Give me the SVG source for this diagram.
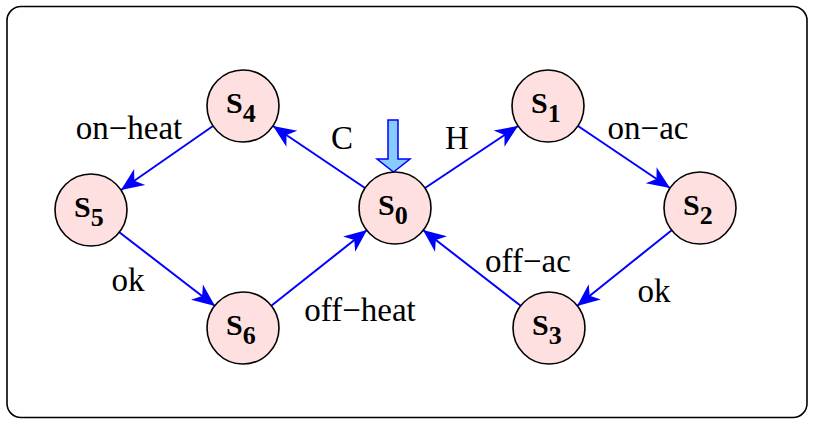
<svg xmlns="http://www.w3.org/2000/svg" width="814" height="425" viewBox="0 0 814 425">
<style>
.node circle{fill:#ffe0e0;stroke:#000;stroke-width:1.6}
.nl{font-family:"Liberation Serif","Times New Roman",serif;font-weight:bold;fill:#000;font-size:30px}
.sub{font-size:26px}
.lbl{font-family:"Liberation Serif","Times New Roman",serif;font-size:33px;fill:#000;text-anchor:middle}
.edge{stroke:#0000ff;stroke-width:2;fill:none;marker-end:url(#ah)}
</style>
<defs>
<marker id="ah" markerUnits="userSpaceOnUse" markerWidth="26" markerHeight="22" viewBox="-22 -10 24 20" refX="0" refY="0" orient="auto">
<path d="M0,0 L-21,-9 L-15,0 L-21,9 Z" fill="#0000ff"/>
</marker>
</defs>
<rect x="7" y="6.5" width="800" height="411" rx="14" fill="#fff" stroke="#000" stroke-width="1.6"/>
<g id="connectors">
<line class="edge" x1="425" y1="188" x2="518" y2="126"/>
<line class="edge" x1="365" y1="188" x2="273" y2="126"/>
<line class="edge" x1="578" y1="126" x2="670" y2="188"/>
<line class="edge" x1="672" y1="230" x2="577" y2="306"/>
<line class="edge" x1="521" y1="306" x2="423" y2="230"/>
<line class="edge" x1="213" y1="126" x2="121" y2="190"/>
<line class="edge" x1="119" y1="232" x2="215" y2="306"/>
<line class="edge" x1="271" y1="306" x2="367" y2="230"/>
<polygon points="388,120 398,120 398,159 410,159 393.5,172 377,159 388,159" fill="#88ccff" stroke="#0000ff" stroke-width="1.5"/>
</g>
<g id="labels">
<text class="lbl" x="342" y="149">C</text>
<text class="lbl" x="457" y="149">H</text>
<text class="lbl" x="129" y="139">on−heat</text>
<text class="lbl" x="648" y="139">on−ac</text>
<text class="lbl" x="654" y="302">ok</text>
<text class="lbl" x="528" y="272">off−ac</text>
<text class="lbl" x="128" y="291">ok</text>
<text class="lbl" x="360" y="321">off−heat</text>
</g>
<g id="S0" class="node"><circle cx="395" cy="208" r="36"/><text class="nl" x="378" y="215">S<tspan class="sub" dy="9">0</tspan></text></g>
<g id="S1" class="node"><circle cx="548" cy="106" r="36"/><text class="nl" x="531" y="113">S<tspan class="sub" dy="9">1</tspan></text></g>
<g id="S2" class="node"><circle cx="700" cy="208" r="36"/><text class="nl" x="683" y="215">S<tspan class="sub" dy="9">2</tspan></text></g>
<g id="S3" class="node"><circle cx="549" cy="328" r="36"/><text class="nl" x="532" y="335">S<tspan class="sub" dy="9">3</tspan></text></g>
<g id="S4" class="node"><circle cx="243" cy="106" r="36"/><text class="nl" x="226" y="113">S<tspan class="sub" dy="9">4</tspan></text></g>
<g id="S5" class="node"><circle cx="91" cy="210" r="36"/><text class="nl" x="74" y="217">S<tspan class="sub" dy="9">5</tspan></text></g>
<g id="S6" class="node"><circle cx="243" cy="328" r="36"/><text class="nl" x="226" y="335">S<tspan class="sub" dy="9">6</tspan></text></g>
</svg>
